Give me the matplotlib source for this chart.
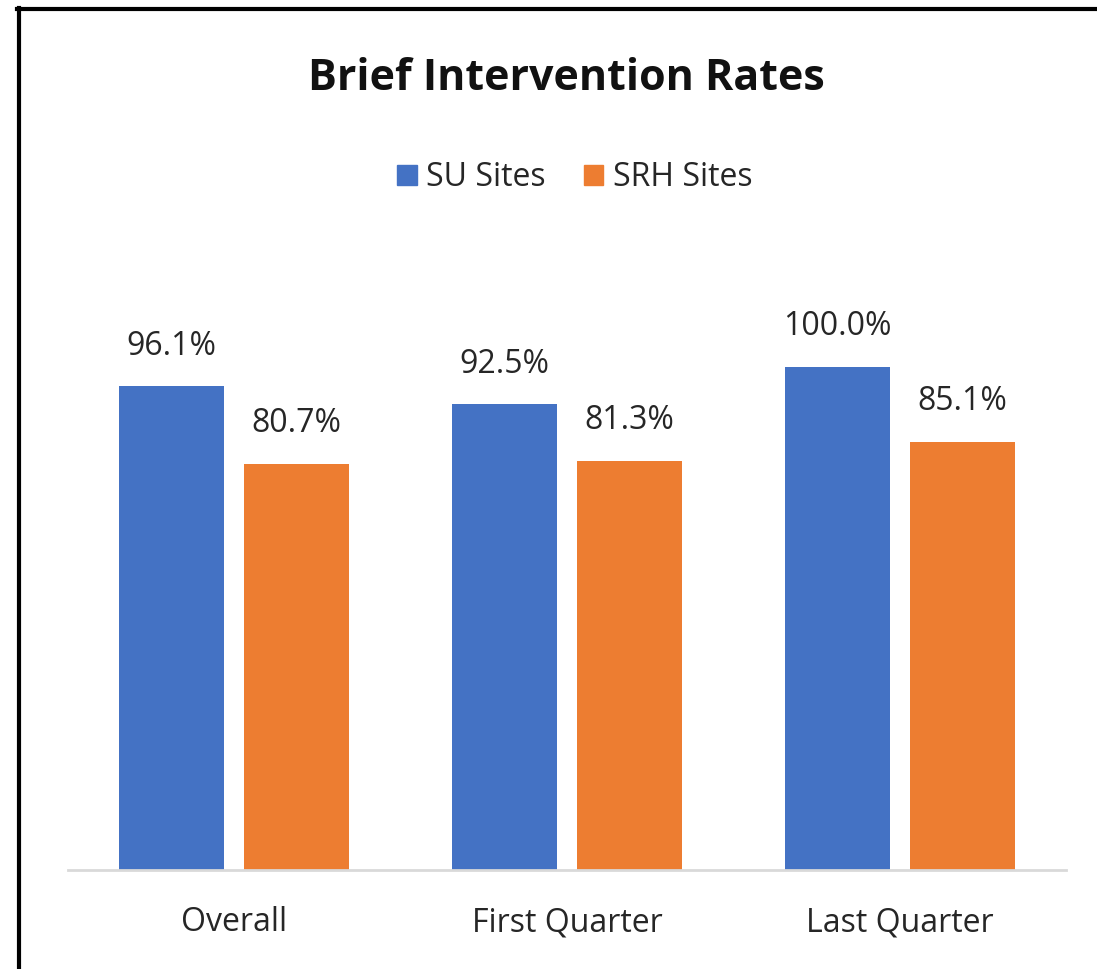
import matplotlib
matplotlib.use("Agg")
import matplotlib.pyplot as plt
import numpy as np
from matplotlib.lines import Line2D
from matplotlib.patches import Patch

categories = ["Overall", "First Quarter", "Last Quarter"]
su_sites = [96.1, 92.5, 100.0]
srh_sites = [80.7, 81.3, 85.1]
series_names = ["SU Sites", "SRH Sites"]

W, H = 1097, 969
fig = plt.figure(figsize=(W / 100, H / 100), dpi=100)
plt.rcParams['font.family'] = ['Open Sans', 'DejaVu Sans']

def fx(px):
    return px / W

def fy(py):
    return 1 - py / H

ax_left, ax_right = 68, 1066
ax_bottom, ax_top = 870, 266
ax = fig.add_axes([fx(ax_left), fy(ax_bottom), fx(ax_right - ax_left), (ax_bottom - ax_top) / H])

x = np.arange(len(categories))
width = 0.316
off = 0.188
blue = "#4472C4"
orange = "#ED7D31"
b1 = ax.bar(x - off, su_sites, width, color=blue, label=series_names[0])
b2 = ax.bar(x + off, srh_sites, width, color=orange, label=series_names[1])

for bars, vals in ((b1, su_sites), (b2, srh_sites)):
    for r, v in zip(bars, vals):
        ax.annotate(f"{v:.1f}%", (r.get_x() + r.get_width() / 2, v), xytext=(0, 17),
                    textcoords="offset points", ha="center", va="bottom",
                    fontsize=23, color="#262626")

ax.set_xlim(-0.5, 2.5)
ax.set_ylim(0, 120)
ax.set_yticks([])
ax.set_xticks(x)
ax.set_xticklabels(categories, fontsize=23, color="#262626")
ax.tick_params(axis='x', length=0, pad=26)
for s in ("left", "right", "top"):
    ax.spines[s].set_visible(False)
ax.spines["bottom"].set_color("#D9D9D9")
ax.spines["bottom"].set_linewidth(2)

fig.text(fx(566), fy(78), "Brief Intervention Rates", ha="center", va="center",
         fontsize=31, fontweight="bold", color="#111111")

handles = [Patch(color=blue), Patch(color=orange)]
fig.legend(handles, series_names, loc="center", bbox_to_anchor=(fx(575), fy(178)),
           ncol=2, frameon=False, fontsize=23, handlelength=0.6, handleheight=0.6,
           handletextpad=0.3, columnspacing=1.2, labelcolor="#262626")

# frame on left and top
fig.add_artist(Line2D([fx(18.5), fx(18.5)], [fy(8), 0], color="black", lw=3, transform=fig.transFigure))
fig.add_artist(Line2D([fx(17), 1], [fy(8.5), fy(8.5)], color="black", lw=3, transform=fig.transFigure))

fig.savefig("out.png", dpi=100)
